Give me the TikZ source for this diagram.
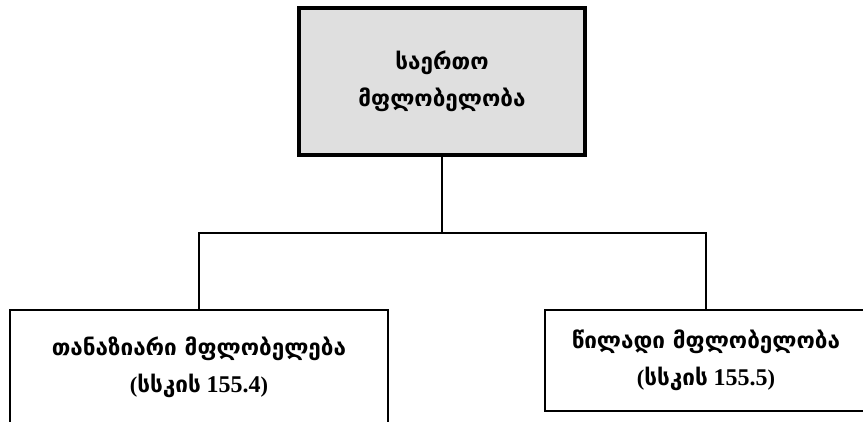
\documentclass[tikz,border=0pt]{standalone}
\usepackage{fontspec}
\setmainfont{Liberation Serif}
\newfontfamily\geo{DejaVu Sans}
\usetikzlibrary{positioning}

\tikzset{
  box/.style={draw, line width=1.8pt, align=center, inner sep=0pt,
    font=\fontsize{22.5}{37}\selectfont\bfseries},
  link/.style={line width=1.8pt}
}

\begin{document}
\begin{tikzpicture}[x=1pt, y=-1pt]
	     \useasboundingbox (0,0) rectangle (863,421);
	     % nodes %
		 \node[box, fill=gray!25, line width=3.5pt, minimum width=286pt, minimum height=147pt] (owner) at (442,81.5) {{\geo საერთო}\\{\geo მფლობელობა}};
		 \node[box, minimum width=378pt, minimum height=114pt] (joint) at (199,367) {{\geo თანაზიარი მფლობელება}\\({\geo სსკის} {\fontsize{24}{37}\selectfont 155.4})};
		 \node[box, minimum width=322pt, minimum height=101pt] (share) at (706,360.5) {{\geo წილადი მფლობელობა}\\({\geo სსკის} {\fontsize{24}{37}\selectfont 155.5})};
		 \coordinate (split) at (442,233);

		 % edges %
		 \draw[link] (owner.south) -- (split);
		 \draw[link] (joint.north) |- (split) -| (share.north);
	     \end{tikzpicture}
\end{document}
